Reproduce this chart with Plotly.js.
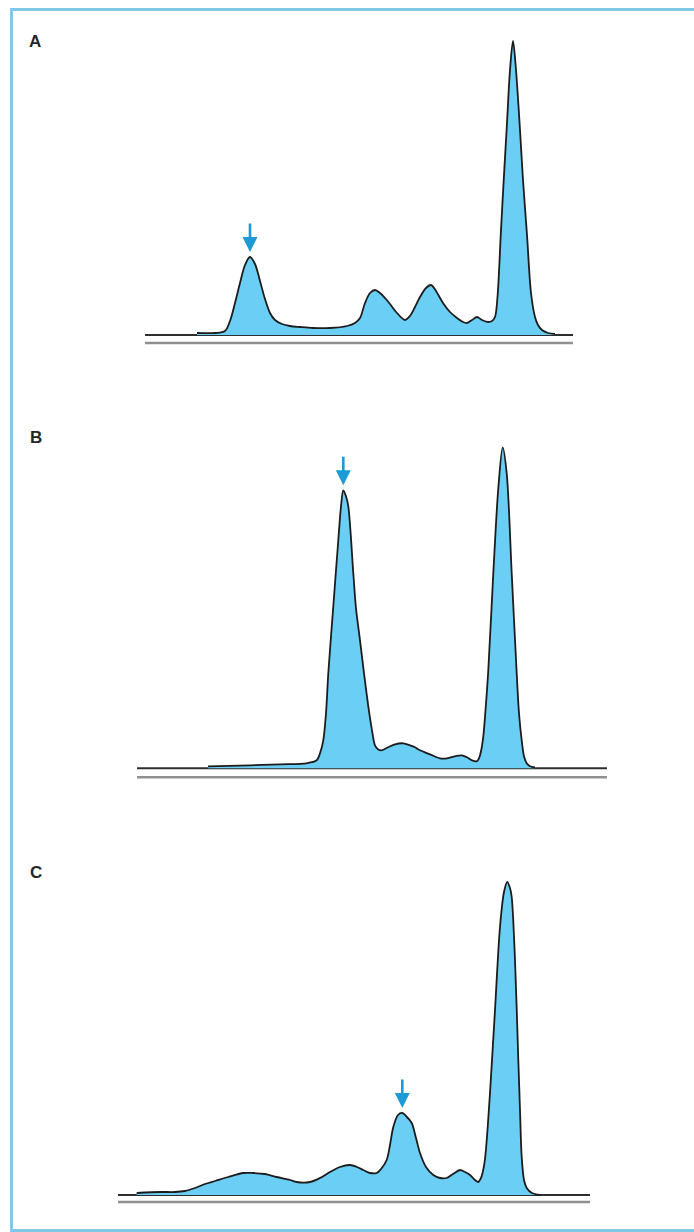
<!DOCTYPE html>
<html>
<head>
<meta charset="utf-8">
<script src="https://cdn.plot.ly/plotly-3.0.1.min.js"></script>
<style>
  html, body { margin: 0; padding: 0; background: #ffffff; }
  #chart { width: 694px; height: 1232px; }
</style>
</head>
<body>
<div id="chart"></div>
<script>
// ---- Data (migration position, relative intensity) ----
const panelLabels = ['A', 'B', 'C'];

const migA = [197, 215, 225, 230, 235, 240, 245, 250, 255, 260, 265, 270, 275, 282, 290, 300, 313, 330, 347, 355, 360, 365, 370, 375, 380, 385, 390, 397, 405, 410, 415, 420, 426, 431, 436, 443, 450, 457, 463, 467, 472, 477, 482, 488, 492, 495, 497.5, 501, 504, 507, 510, 513, 516, 520, 523, 527, 531, 535, 538, 542, 548, 555];
const intA = [2, 2, 4, 14, 32, 52, 70, 78, 71, 54, 36, 22, 15, 11, 9, 8, 7, 7, 9, 12, 17, 32, 42, 45, 42, 37, 31, 22, 15, 19, 28, 38, 47, 50, 44, 32, 23, 17, 13, 12, 15, 18, 15, 13, 14, 18, 38, 105, 160, 212, 265, 294, 265, 205, 155, 100, 42, 18, 10, 5, 2, 1];

const migB = [208, 250, 280, 306.7, 316.7, 320, 323.3, 326, 328.3, 333.3, 338.3, 341, 343.3, 346, 348.3, 353.3, 356, 360, 364, 368.3, 372, 375, 378, 381.7, 388, 395, 403.3, 410, 415, 420, 430, 440, 447, 455, 461.7, 467, 472, 476.7, 479, 481, 483.3, 485.5, 488.3, 493.3, 498.3, 502.7, 506.7, 511.7, 516.7, 519, 521.7, 524, 526.7, 530, 535];
const intB = [2, 3, 4, 5, 8, 15, 28, 55, 95, 162, 228, 262, 278, 272, 262, 195, 160, 128, 95, 62, 38, 23, 19, 18, 21, 24, 25, 23, 21, 18, 14, 10, 10, 12, 13, 11, 8, 7, 10, 17, 32, 58, 98, 195, 280, 321, 295, 195, 95, 55, 28, 12, 5, 2, 1];

const migC = [136.7, 160, 175, 185, 195, 205, 215, 228, 243.3, 253.3, 265, 276.7, 290, 296.7, 310, 320, 330, 340, 350, 357, 363.3, 370, 376.7, 381, 386.7, 390, 393.3, 398, 402.3, 406, 411.7, 416, 420, 426, 433.3, 440, 446.7, 453, 460, 465, 470, 475, 478.3, 481, 483, 485, 487.5, 490, 495, 500, 504, 507.3, 510, 511.7, 515, 518.3, 520, 521.7, 524, 526.7, 532, 540];
const intC = [2, 3, 3, 4, 7, 11, 14, 18, 22, 22, 21, 18, 15, 13, 13, 17, 23, 28, 30, 28, 25, 22, 22, 26, 35, 50, 68, 80, 82, 79, 72, 57, 42, 28, 20, 17, 17, 21, 25, 23, 20, 15, 13, 17, 24, 36, 65, 102, 185, 268, 303, 313, 307, 298, 235, 135, 85, 38, 15, 7, 2, 0];

// migration position of the fraction marked with an arrow in each trace
const markedPeak = [250, 343.3, 402.3];

// ---- Geometry / styling (not data) ----
const W = 694, H = 1232;
const baselinePx = [335, 768.3, 1195];   // vertical pixel of each trace baseline
const yLo = -20, yHi = [320, 340, 330];
const baseExtent = [[145, 573], [137, 607], [118, 590]];
const lowerGap = [8, 9, 7];
const labelPx = [[35, 42], [36, 437], [36, 872]];

const migs = [migA, migB, migC];
const ints = [intA, intB, intC];

const fillColor = '#6bcff5';
const arrowColor = '#1b9ad6';

const traces = [];
const shapes = [];
const annotations = [];
const layout = {
  width: W, height: H,
  margin: {l: 0, r: 0, t: 0, b: 0, pad: 0},
  paper_bgcolor: '#ffffff',
  plot_bgcolor: 'rgba(0,0,0,0)',
  showlegend: false,
  shapes: shapes,
  annotations: annotations
};

for (let i = 0; i < 3; i++) {
  const sfx = i === 0 ? '' : String(i + 1);
  const xa = 'x' + sfx, ya = 'y' + sfx;
  const bottomPx = baselinePx[i] - yLo;
  const topPx = baselinePx[i] - yHi[i];
  layout['xaxis' + sfx] = {
    range: [0, W], domain: [0, 1], anchor: ya,
    visible: false, fixedrange: true
  };
  layout['yaxis' + sfx] = {
    range: [yLo, yHi[i]],
    domain: [(H - bottomPx) / H, (H - topPx) / H],
    anchor: xa, visible: false, fixedrange: true
  };

  traces.push({
    type: 'scatter', mode: 'lines',
    x: migs[i], y: ints[i],
    xaxis: xa, yaxis: ya,
    fill: 'tozeroy', fillcolor: fillColor,
    line: {color: '#1c1c1c', width: 1.8, shape: 'spline', smoothing: 0.9},
    hoverinfo: 'skip'
  });

  // double baseline
  shapes.push({
    type: 'line', xref: xa, yref: ya, layer: 'below',
    x0: baseExtent[i][0], x1: baseExtent[i][1], y0: 0, y1: 0,
    line: {color: '#2e2e2e', width: 2}
  });
  shapes.push({
    type: 'line', xref: xa, yref: ya, layer: 'below',
    x0: baseExtent[i][0], x1: baseExtent[i][1], y0: -lowerGap[i], y1: -lowerGap[i],
    line: {color: '#8f8f8f', width: 2.5}
  });

  // arrow pointing at the marked peak
  let best = 0, bestD = Infinity;
  migs[i].forEach((m, k) => { const d = Math.abs(m - markedPeak[i]); if (d < bestD) { bestD = d; best = k; } });
  const peakVal = ints[i][best];
  annotations.push({
    xref: xa, yref: ya, x: markedPeak[i], y: peakVal + 5,
    ax: 0, ay: -30, axref: 'pixel', ayref: 'pixel',
    text: '', showarrow: true,
    arrowhead: 2, arrowsize: 1.15, arrowwidth: 2.6, arrowcolor: arrowColor
  });

  // panel letter
  annotations.push({
    xref: 'paper', yref: 'paper',
    x: labelPx[i][0] / W, y: (H - labelPx[i][1]) / H,
    xanchor: 'center', yanchor: 'middle',
    text: '<b>' + panelLabels[i] + '</b>', showarrow: false,
    font: {family: 'Liberation Sans, Arial, sans-serif', size: 17, color: '#262626'}
  });
}

// outer frame
shapes.push({
  type: 'rect', xref: 'paper', yref: 'paper', layer: 'above',
  x0: 11.5 / W, x1: 1.02, y0: (H - 1230.5) / H, y1: (H - 9.5) / H,
  line: {color: '#82c9e6', width: 3}, fillcolor: 'rgba(0,0,0,0)'
});

Plotly.newPlot('chart', traces, layout, {staticPlot: true, displayModeBar: false});
</script>
</body>
</html>
